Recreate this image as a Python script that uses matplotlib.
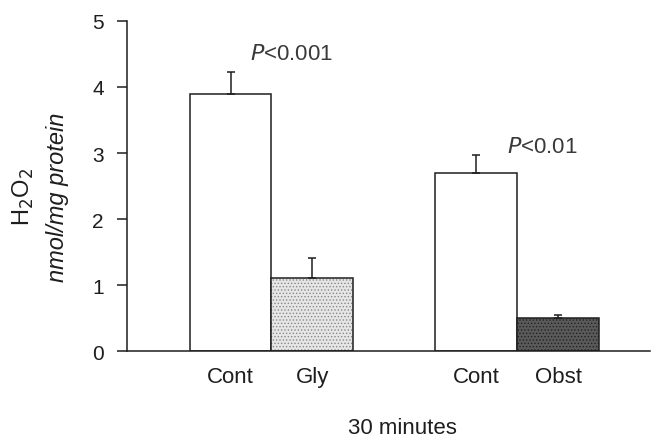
import matplotlib.pyplot as plt
import numpy as np

plt.rcParams['font.family'] = ['Liberation Sans', 'DejaVu Sans']
plt.rcParams['hatch.linewidth'] = 0.6

# data
labels = ['Cont', 'Gly', 'Cont', 'Obst']
positions = [0, 1, 3, 4]
values = [3.9, 1.1, 2.7, 0.5]
errors = [0.32, 0.31, 0.27, 0.05]
faces = ['white', '#e6e6e6', 'white', '#5a5a5a']
hatches = [None, '.....', None, '.....']
hatch_cols = ['#333333', '#888888', '#333333', '#222222']
pvals = ['$P$<0.001', '$P$<0.01']

ink = '#1e1e1e'
fig = plt.figure(figsize=(6.56, 4.39), dpi=100)
ax = fig.add_axes([0.194, 0.198, 0.797, 0.752])

for x, v, e, fc, h, hc in zip(positions, values, errors, faces, hatches, hatch_cols):
    ax.bar(x, v, width=1.0, color=fc, edgecolor=hc, hatch=h, linewidth=0)
    ax.bar(x, v, width=1.0, color='none', edgecolor=ink, linewidth=1.1)
    ax.errorbar(x, v, yerr=[[0], [e]], fmt='none', ecolor=ink, elinewidth=1.1,
                capsize=3, capthick=1.1)

ax.text(0.24, 4.5, pvals[0], fontsize=16, color='#3a3a3a', va='center')
ax.text(3.37, 3.1, pvals[1], fontsize=16, color='#3a3a3a', va='center')

ax.set_xlim(-1.26, 5.12)
ax.set_ylim(0, 5)
ax.set_yticks(range(6))
ax.set_xticks(positions)
ax.set_xticklabels(labels)
ax.tick_params(axis='x', length=0, pad=11, labelsize=16, colors=ink)
ax.tick_params(axis='y', length=7, width=1.1, labelsize=15, colors=ink, pad=10)
for s in ['top', 'right']:
    ax.spines[s].set_visible(False)
for s in ['left', 'bottom']:
    ax.spines[s].set_color(ink)
    ax.spines[s].set_linewidth(1.1)

ax.text(2.1, -1.15, '30 minutes', ha='center', va='center', fontsize=16, color=ink)
fig.text(0.036, 0.551, 'H$_2$O$_2$', rotation=90, ha='center', va='center',
         fontsize=17, color=ink)
fig.text(0.088, 0.551, 'nmol/mg protein', rotation=90, ha='center', va='center',
         fontsize=17, style='italic', color=ink)

fig.savefig('out.png', dpi=100)
